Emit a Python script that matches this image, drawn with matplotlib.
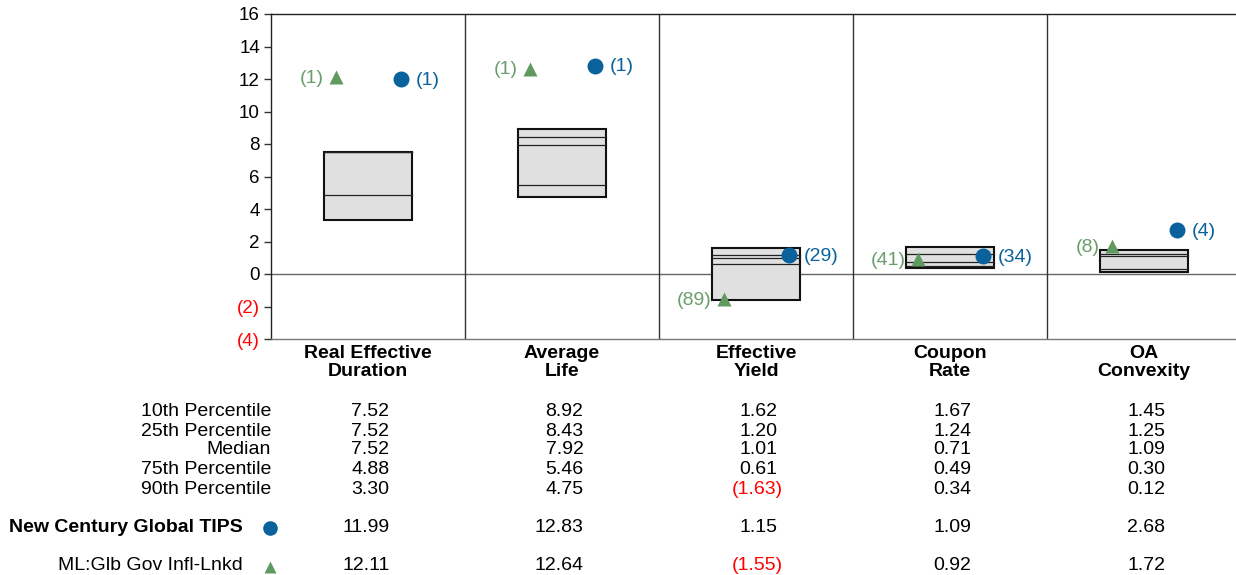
import matplotlib
matplotlib.use("Agg")
import matplotlib.pyplot as plt
import matplotlib.transforms as mtransforms
from matplotlib.patches import Rectangle
from matplotlib.lines import Line2D

plt.rcParams['font.family'] = ['Liberation Sans', 'DejaVu Sans']

categories = ["Real Effective\nDuration", "Average\nLife", "Effective\nYield", "Coupon\nRate", "OA\nConvexity"]
row_labels = ["10th Percentile", "25th Percentile", "Median", "75th Percentile", "90th Percentile"]
p10 = [7.52, 8.92, 1.62, 1.67, 1.45]
p25 = [7.52, 8.43, 1.20, 1.24, 1.25]
p50 = [7.52, 7.92, 1.01, 0.71, 1.09]
p75 = [4.88, 5.46, 0.61, 0.49, 0.30]
p90 = [3.30, 4.75, -1.63, 0.34, 0.12]
fund_name = "New Century Global TIPS"
fund_vals = [11.99, 12.83, 1.15, 1.09, 2.68]
fund_ranks = [1, 1, 29, 34, 4]
bench_name = "ML:Glb Gov Infl-Lnkd"
bench_vals = [12.11, 12.64, -1.55, 0.92, 1.72]
bench_ranks = [1, 1, 89, 41, 8]
yticks = [-4, -2, 0, 2, 4, 6, 8, 10, 12, 14, 16]

BLUE = '#0a629c'
GREEN = '#6a9e6a'
GREEN_M = '#609a60'
RED = '#ff0000'
FS = 14

W, H = 1236, 575
fig = plt.figure(figsize=(W / 100, H / 100), dpi=100)
ax_l, ax_r, ax_t, ax_b = 271, 1241, 14, 339
ax = fig.add_axes([ax_l / W, 1 - ax_b / H, (ax_r - ax_l) / W, (ax_b - ax_t) / H])
n = len(categories)
ax.set_xlim(0, n)
ax.set_ylim(-4, 16)

ax.spines['right'].set_visible(False)
ax.spines['top'].set_color('#222222')
ax.spines['left'].set_color('#222222')
ax.spines['bottom'].set_color('#777777')
for s in ax.spines.values():
    s.set_linewidth(1.0)

ax.set_xticks([])
ax.set_yticks(yticks)
ax.set_yticklabels([f"({abs(v)})" if v < 0 else f"{v}" for v in yticks], fontsize=13.5)
for lbl, v in zip(ax.get_yticklabels(), yticks):
    if v < 0:
        lbl.set_color(RED)
ax.tick_params(axis='y', length=5, width=1, color='#333333', pad=3)

ax.axhline(0, color='#666666', lw=1.0, zorder=1)
for i in range(1, n):
    ax.axvline(i, color='#333333', lw=1.0, zorder=1)

bw = 0.45
for i in range(n):
    c = i + 0.5
    lo, hi = min(p10[i], p90[i]), max(p10[i], p90[i])
    ax.add_patch(Rectangle((c - bw / 2, lo), bw, hi - lo, facecolor='#e0e0e0',
                           edgecolor='#111111', lw=1.5, zorder=2))
    for v in (p25[i], p50[i], p75[i]):
        ax.plot([c - bw / 2, c + bw / 2], [v, v], color='#222222', lw=0.9, zorder=3)
    tx = c - 0.165
    cx = c + 0.17
    ax.plot(tx, bench_vals[i], marker='^', ms=10, color=GREEN_M, mec='none', zorder=5)
    ax.plot(cx, fund_vals[i], marker='o', ms=11.5, color=BLUE, mec='none', zorder=5)
    ax.annotate(f"({bench_ranks[i]})", (tx, bench_vals[i]), xytext=(-9, -1),
                textcoords='offset points', ha='right', va='center', fontsize=FS, color=GREEN)
    ax.annotate(f"({fund_ranks[i]})", (cx, fund_vals[i]), xytext=(10.5, -1),
                textcoords='offset points', ha='left', va='center', fontsize=FS, color=BLUE)

# category labels
tr = mtransforms.blended_transform_factory(ax.transData, fig.transFigure)
for i, cat in enumerate(categories):
    ax.text(i + 0.5, 1 - 345 / H, cat, transform=tr, ha='center', va='top',
            fontsize=FS, fontweight='bold', linespacing=1.1)


def put_val(i, y, v):
    if v < 0:
        ax.text(i + 0.5 + 27 / 194, y, f"({abs(v):.2f})", transform=tr, ha='right',
                va='center', fontsize=FS, color=RED)
    else:
        ax.text(i + 0.5 + 21.5 / 194, y, f"{v:.2f}", transform=tr, ha='right',
                va='center', fontsize=FS)


# table
row_y = [412, 431, 450, 470, 490]
for r, (lab, vals) in enumerate(zip(row_labels, [p10, p25, p50, p75, p90])):
    y = 1 - row_y[r] / H
    fig.text(271 / W, y, lab, ha='right', va='center', fontsize=FS)
    for i, v in enumerate(vals):
        put_val(i, y, v)

for name, vals, ypx, bold, mk, col, ms in [
        (fund_name, fund_vals, 527, True, 'o', BLUE, 10.5),
        (bench_name, bench_vals, 566, False, '^', GREEN_M, 9)]:
    y = 1 - ypx / H
    fig.text(243 / W, y, name, ha='right', va='center', fontsize=FS,
             fontweight='bold' if bold else 'normal')
    fig.lines.append(Line2D([270 / W], [y - 1 / H], marker=mk, ms=ms, color=col,
                            mec='none', transform=fig.transFigure))
    for i, v in enumerate(vals):
        put_val(i, y, v)

fig.savefig("out.png", dpi=100)
